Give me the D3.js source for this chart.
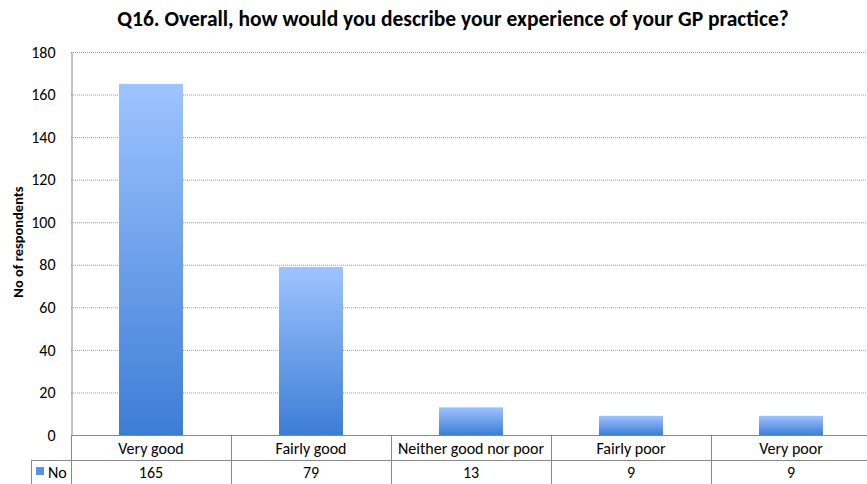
<!DOCTYPE html>
<html><head><meta charset="utf-8">
<script src="https://cdn.jsdelivr.net/npm/d3@7"></script>
<style>body{margin:0;background:#fff}svg{display:block}text{font-family:Carlito,"Liberation Sans Narrow","Open Sans",sans-serif}</style>
</head><body>
<script>
const categories = ["Very good","Fairly good","Neither good nor poor","Fairly poor","Very poor"];
const values = [165,79,13,9,9];
const seriesName = "No";
const yTicks = [0,20,40,60,80,100,120,140,160,180];
const title = "Q16. Overall, how would you describe your experience of your GP practice?";
const yLabel = "No of respondents";

(function(){
const W=867,H=484;
const svg=d3.select("body").append("svg").attr("width",W).attr("height",H);
const defs=svg.append("defs");
const g=defs.append("linearGradient").attr("id","bg").attr("x1",0).attr("y1",0).attr("x2",0).attr("y2",1);
g.append("stop").attr("offset","0%").attr("stop-color","#9ec4ff");
g.append("stop").attr("offset","100%").attr("stop-color","#3d7dd6");

const pLeft=71, pTop=52, pBottom=435;
const x=d3.scaleBand().domain(categories).range([pLeft,pLeft+160*categories.length]).paddingInner(0.6).paddingOuter(0.3);
const y=d3.scaleLinear().domain([0,180]).range([pBottom,pTop]);

svg.append("g").selectAll("line").data(yTicks.filter(d=>d>0)).join("line")
 .attr("x1",pLeft).attr("x2",W).attr("y1",d=>y(d)+0.5).attr("y2",d=>y(d)+0.5)
 .attr("stroke","#9a9a9a").attr("stroke-width",1).attr("stroke-dasharray","1,1");

svg.append("g").selectAll("rect").data(values).join("rect")
 .attr("x",(d,i)=>x(categories[i])).attr("width",x.bandwidth())
 .attr("y",d=>y(d)).attr("height",d=>y(0)-y(d)).attr("fill","url(#bg)");

const ya=svg.append("g").attr("transform",`translate(${pLeft+0.5},0)`)
 .call(d3.axisLeft(y).tickValues(yTicks).tickSize(0).tickPadding(16));
ya.select(".domain").attr("stroke","#888");
ya.selectAll("text").attr("font-size",16).attr("fill","#000").style("font-family",'Carlito,"Liberation Sans Narrow","Open Sans",sans-serif');

const tbl=svg.append("g");
const lc="#888";
const half=x.step()*x.paddingInner()/2;
tbl.append("line").attr("x1",pLeft).attr("x2",W).attr("y1",pBottom+0.5).attr("y2",pBottom+0.5).attr("stroke",lc);
tbl.append("line").attr("x1",31).attr("x2",W).attr("y1",460.5).attr("y2",460.5).attr("stroke",lc);
tbl.append("line").attr("x1",31.5).attr("x2",31.5).attr("y1",460).attr("y2",H).attr("stroke",lc);
tbl.append("line").attr("x1",pLeft+0.5).attr("x2",pLeft+0.5).attr("y1",pBottom).attr("y2",H).attr("stroke",lc);
tbl.selectAll(".vl").data(categories.slice(1)).join("line")
 .attr("x1",d=>x(d)-half+0.5).attr("x2",d=>x(d)-half+0.5)
 .attr("y1",pBottom).attr("y2",H).attr("stroke",lc);
tbl.selectAll(".cat").data(categories).join("text")
 .attr("x",d=>x(d)+x.bandwidth()/2).attr("y",454).attr("text-anchor","middle").attr("font-size",16).text(d=>d);
tbl.selectAll(".val").data(values).join("text")
 .attr("x",(d,i)=>x(categories[i])+x.bandwidth()/2).attr("y",478).attr("text-anchor","middle").attr("font-size",16).text(d=>d);
tbl.append("rect").attr("x",36).attr("y",467).attr("width",8).attr("height",8).attr("fill","#5b92e0");
tbl.append("text").attr("x",48).attr("y",478).attr("font-size",16).text(seriesName);

svg.append("text").attr("x",453).attr("y",26).attr("text-anchor","middle").attr("font-size",21.5).attr("font-weight","bold").text(title);
svg.append("text").attr("transform","translate(23,242) rotate(-90)").attr("text-anchor","middle").attr("font-size",14.5).attr("font-weight","bold").text(yLabel);
})();
</script>
</body></html>
